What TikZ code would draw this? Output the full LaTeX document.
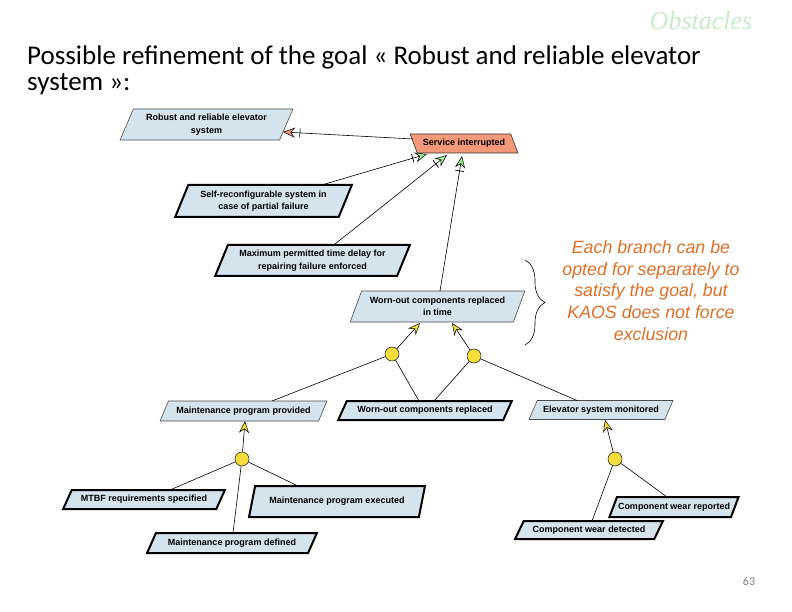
\documentclass[tikz,border=0pt]{standalone}
\usepackage{fontspec}
\setmainfont{Liberation Sans}
\newfontfamily\titlefont{Carlito}
\newfontfamily\obsfont{Liberation Serif}
\usetikzlibrary{shapes.geometric,arrows.meta,decorations.pathreplacing}
\definecolor{goalfill}{RGB}{213,227,237}
\definecolor{obsfill}{RGB}{244,152,122}
\definecolor{resgreen}{RGB}{150,228,140}
\definecolor{refyellow}{RGB}{245,222,60}
\definecolor{noteorange}{RGB}{222,112,40}
\definecolor{obsgreen}{RGB}{200,235,200}
\begin{document}
\begin{tikzpicture}[x=1pt,y=-1pt,
  box/.style={trapezium, trapezium stretches=true, draw=black!70, line width=0.6pt,
    fill=goalfill, inner sep=1pt, align=center,
    font=\bfseries\fontsize{9}{12.5}\selectfont},
  one/.style={box, trapezium left angle=54, trapezium right angle=126},
  two/.style={box, trapezium left angle=64, trapezium right angle=116},
  leaf/.style={draw=black, line width=2pt},
  obst/.style={box, fill=obsfill, trapezium left angle=122, trapezium right angle=58},
  orc/.style={circle, draw=black!80, line width=0.6pt, fill=refyellow, minimum size=14pt, inner sep=0pt},
  link/.style={draw=black, line width=0.6pt},
  resarrow/.style={link, -{Stealth[length=12pt,width=10pt,inset=4pt,color=black,fill=resgreen,line width=0.5pt]}},
  obsarrow/.style={link, -{Stealth[length=12pt,width=10pt,inset=4pt,color=black,fill=obsfill,line width=0.5pt]}},
  refarrow/.style={link, -{Stealth[length=12pt,width=10pt,inset=4pt,color=black,fill=refyellow,line width=0.5pt]}},
  xbar/.style={shape=rectangle, draw=black, line width=0.7pt, minimum width=0pt, minimum height=9pt, inner sep=0pt, sloped}
]
\fill[white] (0,0) rectangle (792,612);
\useasboundingbox (0,0) rectangle (792,612);

% texts
\node[anchor=base, font=\obsfont\itshape\fontsize{26}{26}\selectfont, text=obsgreen] (obs) at (701,30) {Obstacles};
\node[anchor=base west, font=\titlefont\fontsize{27}{26}\selectfont, align=left, inner sep=0pt] (title) at (27,91)
  {Possible refinement of the goal « Robust and reliable elevator\\system »:};
\node[font=\itshape\fontsize{17.8}{21.7}\selectfont, text=noteorange, align=center] (note) at (651,290.5)
  {Each branch can be\\opted for separately to\\satisfy the goal, but\\KAOS does not force\\exclusion};
\node[anchor=base, font=\titlefont\fontsize{12}{14}\selectfont, text=black!50] (pg) at (749,585) {63};

% goal / obstacle nodes
\node[two, minimum width=173pt, minimum height=31pt] (rob) at (206.5,124.5) {Robust and reliable elevator\\system};
\node[obst, draw=black!80, minimum width=108pt, minimum height=19pt] (si) at (464,143.5) {Service interrupted};
\node[two, leaf, minimum width=177pt, minimum height=32pt] (self) at (263.5,201) {Self-reconfigurable system in\\case of partial failure};
\node[two, leaf, minimum width=195pt, minimum height=31pt] (max) at (312.5,260.5) {Maximum permitted time delay for\\repairing failure enforced};
\node[two, minimum width=175pt, minimum height=31pt] (wit) at (437.5,306.5) {Worn-out components replaced\\in time};
\node[one, minimum width=167pt, minimum height=20pt] (mpp) at (243.5,411) {Maintenance program provided};
\node[one, leaf, minimum width=174pt, minimum height=19pt] (wcr) at (425,410.5) {Worn-out components replaced};
\node[one, minimum width=144pt, minimum height=19pt] (esm) at (601,410) {Elevator system monitored};
\node[one, leaf, minimum width=162pt, minimum height=19pt] (mtbf) at (144,499.5) {MTBF requirements specified};
\node[two, leaf, minimum width=176pt, minimum height=31pt] (mpe) at (337,501.5) {Maintenance program executed};
\node[one, leaf, minimum width=170pt, minimum height=20pt] (mpd) at (232,543) {Maintenance program defined};
\node[one, leaf, minimum width=148pt, minimum height=18pt] (cwd) at (589,530) {Component wear detected};
\node[one, leaf, minimum width=128pt, minimum height=20pt] (cwr) at (674,507) {Component wear reported};

% refinement circles
\node[orc] (cl) at (392,354) {};
\node[orc] (cr) at (474,356) {};
\node[orc] (cbl) at (242,459) {};
\node[orc] (cbr) at (615,459) {};

% obstruction / resolution links
\draw[obsarrow] ([shift={(-51,-4.5)}]si.center) -- ([shift={(76.5,7.5)}]rob.center) node[xbar, pos=0.87] (x1) {};
\draw[resarrow] ([shift={(61.5,-17)}]self.center) -- ([shift={(-37,10.5)}]si.center) node[xbar, pos=0.86] (x2) {};
\draw[resarrow] ([shift={(22.5,-16.5)}]max.center) -- ([shift={(-17,11.5)}]si.center) node[xbar, pos=0.9] (x3) {};
\draw[resarrow] ([shift={(2.5,-15.5)}]wit.center) -- ([shift={(-2,12.5)}]si.center) node[xbar, pos=0.89] (x4) {};

% refinements
\draw[refarrow] (cl) -- ([shift={(-17.5,16.5)}]wit.center);
\draw[refarrow] (cr) -- ([shift={(14.5,16.5)}]wit.center);
\draw[link] (cl) -- ([shift={(28.5,-10)}]mpp.center);
\draw[link] (cl) -- ([shift={(-6,-9.5)}]wcr.center);
\draw[link] (cr) -- ([shift={(9,-9.5)}]wcr.center);
\draw[link] (cr) -- ([shift={(-24,-9.5)}]esm.center);

\draw[refarrow] (cbl) -- ([shift={(1.5,10)}]mpp.center);
\draw[link] (cbl) -- ([shift={(26,-9.5)}]mtbf.center);
\draw[link] (cbl) -- ([shift={(1,-10)}]mpd.center);
\draw[link] (cbl) -- ([shift={(-39,-15.5)}]mpe.center);

\draw[refarrow] (cbr) -- ([shift={(4,10)}]esm.center);
\draw[link] (cbr) -- ([shift={(3,-9)}]cwd.center);
\draw[link] (cbr) -- ([shift={(-7,-10)}]cwr.center);

% brace
\coordinate (bt) at (525,260);
\coordinate (bb) at (525,345);
\draw[decorate, decoration={brace, amplitude=20pt}, line width=0.6pt] (bt) -- (bb);
\end{tikzpicture}
\end{document}
